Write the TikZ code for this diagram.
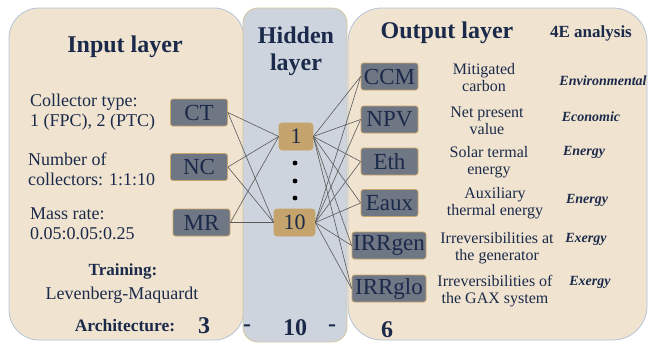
\documentclass[tikz,border=0pt]{standalone}
\usepackage{fontspec}
\setmainfont{Liberation Serif}

\definecolor{navy}{HTML}{1B2A4A}
\definecolor{panelfill}{HTML}{F0E4D0}
\definecolor{panelline}{HTML}{B4C3D8}
\definecolor{hiddenfill}{HTML}{CDD4DD}
\definecolor{hiddenline}{HTML}{D5C4A0}
\definecolor{boxfill}{HTML}{6F7684}
\definecolor{boxline}{HTML}{C7A56B}
\definecolor{neuronfill}{HTML}{C4A46C}
\definecolor{linkgray}{HTML}{5A5A5A}

\tikzset{
  panel/.style={draw=panelline, fill=panelfill, line width=0.8pt},
  varbox/.style={draw=boxline, fill=boxfill, text=navy, rounded corners=2.5pt,
    line width=0.8pt, inner sep=1pt, minimum height=27pt, minimum width=57pt,
    font=\fontsize{23}{23}\selectfont},
  neuron/.style={draw=boxline, fill=neuronfill, text=navy, rounded corners=3pt,
    line width=0.6pt, inner sep=1pt, minimum height=27pt,
    font=\fontsize{22}{22}\selectfont},
  heading/.style={text=navy, inner sep=0pt, font=\bfseries\fontsize{24}{27}\selectfont, align=center},
  info/.style={text=navy, inner sep=0pt, font=\fontsize{18}{20}\selectfont, align=left, anchor=west},
  desc/.style={text=navy, inner sep=0pt, font=\fontsize{16}{17}\selectfont, align=center},
  field/.style={text=navy, inner sep=0pt, font=\bfseries\itshape\fontsize{14}{14}\selectfont},
  count/.style={text=navy, inner sep=0pt, font=\bfseries\fontsize{24}{24}\selectfont},
  link/.style={draw=linkgray, line width=0.6pt}
}

\begin{document}
\begin{tikzpicture}[x=1pt, y=-1pt]
  \useasboundingbox (0,0) rectangle (649,343);

  % the three layer panels
  \draw[panel, rounded corners=30pt] (9,8) rectangle (244,340);
  \draw[panel, rounded corners=34pt] (348,8) rectangle (647,340);
  \draw[fill=hiddenfill, draw=hiddenline, line width=0.8pt, rounded corners=15pt]
    (243,8) rectangle (347,342);

  % input layer
  \node[heading] (intitle) at (125,47) {Input layer};
  \node[info] (ctinfo) at (30,112) {Collector type:\\1 (FPC), 2 (PTC)};
  \node[info] (ncinfo) at (28,169) {Number of\\collectors: 1:1:10};
  \node[info] (mrinfo) at (30,224) {Mass rate:\\0.05:0.05:0.25};
  \node[varbox] (CT) at (199,112.5) {CT};
  \node[varbox] (NC) at (199,167) {NC};
  \node[varbox] (MR) at (201.5,222.5) {MR};
  \node[text=navy, font=\bfseries\fontsize{17}{17}\selectfont] (train) at (123,271) {Training:};
  \node[text=navy, font=\fontsize{18}{18}\selectfont] (algo) at (122,295) {Levenberg-Maquardt};
  \node[text=navy, font=\bfseries\fontsize{17.5}{17.5}\selectfont] (arch) at (125,326) {Architecture:};
  \node[count] (nin) at (204,326) {3};

  % hidden layer
  \node[heading] (hidtitle) at (296,51) {Hidden\\layer};
  \node[neuron, minimum width=34pt] (h1) at (296,136.5) {1};
  \node[neuron, minimum width=41pt] (h10) at (294.5,222.5) {10};
  \fill[black] (295,163) circle (2.4) (295,181) circle (2.4) (295,198) circle (2.4);
  \node[count] (dashl) at (247,328) {-};
  \node[count] (nhid) at (295,328) {10};
  \node[count] (dashr) at (332,328) {-};

  % output layer
  \node[heading] (outtitle) at (447,33) {Output layer};
  \node[text=navy, font=\bfseries\fontsize{17}{17}\selectfont] (fourE) at (591,33) {4E analysis};
  \node[varbox] (CCM) at (389.5,76.5) {CCM};
  \node[varbox] (NPV) at (389.5,119.5) {NPV};
  \node[varbox] (Eth) at (389.5,161.5) {Eth};
  \node[varbox] (Eaux) at (389.5,203) {Eaux};
  \node[varbox, minimum width=74pt] (IRRgen) at (389,245.5) {IRRgen};
  \node[varbox, minimum width=74pt] (IRRglo) at (389,288.5) {IRRglo};

  \node[desc] (dccm) at (484,78) {Mitigated\\carbon};
  \node[desc] (dnpv) at (487,121) {Net present\\value};
  \node[desc] (deth) at (489,162) {Solar termal\\energy};
  \node[desc] (deaux) at (495,203) {Auxiliary\\thermal energy};
  \node[desc] (dgen) at (497,248) {Irreversibilities at\\the generator};
  \node[desc] (dglo) at (495,291) {Irreversibilities of\\the GAX system};

  \node[field] (fccm) at (603,81) {Environmental};
  \node[field] (fnpv) at (591,117) {Economic};
  \node[field] (feth) at (584,152) {Energy};
  \node[field] (feaux) at (587,200) {Energy};
  \node[field] (fgen) at (586,239) {Exergy};
  \node[field] (fglo) at (590,282) {Exergy};
  \node[count] (nout) at (387,330) {6};

  % connections
  \begin{scope}[link]
    \draw (CT.east) -- (h1.west);
    \draw (CT.east) -- (h10.west);
    \draw (NC.east) -- (h1.west);
    \draw (NC.east) -- (h10.west);
    \draw (MR.east) -- (h1.west);
    \draw (MR.east) -- (h10.west);
    \draw (h1.east) -- (CCM.west);
    \draw (h1.east) -- (NPV.west);
    \draw (h1.east) -- (Eth.west);
    \draw (h1.east) -- (Eaux.west);
    \draw (h1.east) -- (IRRgen.west);
    \draw (h1.east) -- (IRRglo.west);
    \draw (h10.east) -- (CCM.west);
    \draw (h10.east) -- (NPV.west);
    \draw (h10.east) -- (Eth.west);
    \draw (h10.east) -- (Eaux.west);
    \draw (h10.east) -- (IRRgen.west);
    \draw (h10.east) -- (IRRglo.west);
  \end{scope}
\end{tikzpicture}
\end{document}
